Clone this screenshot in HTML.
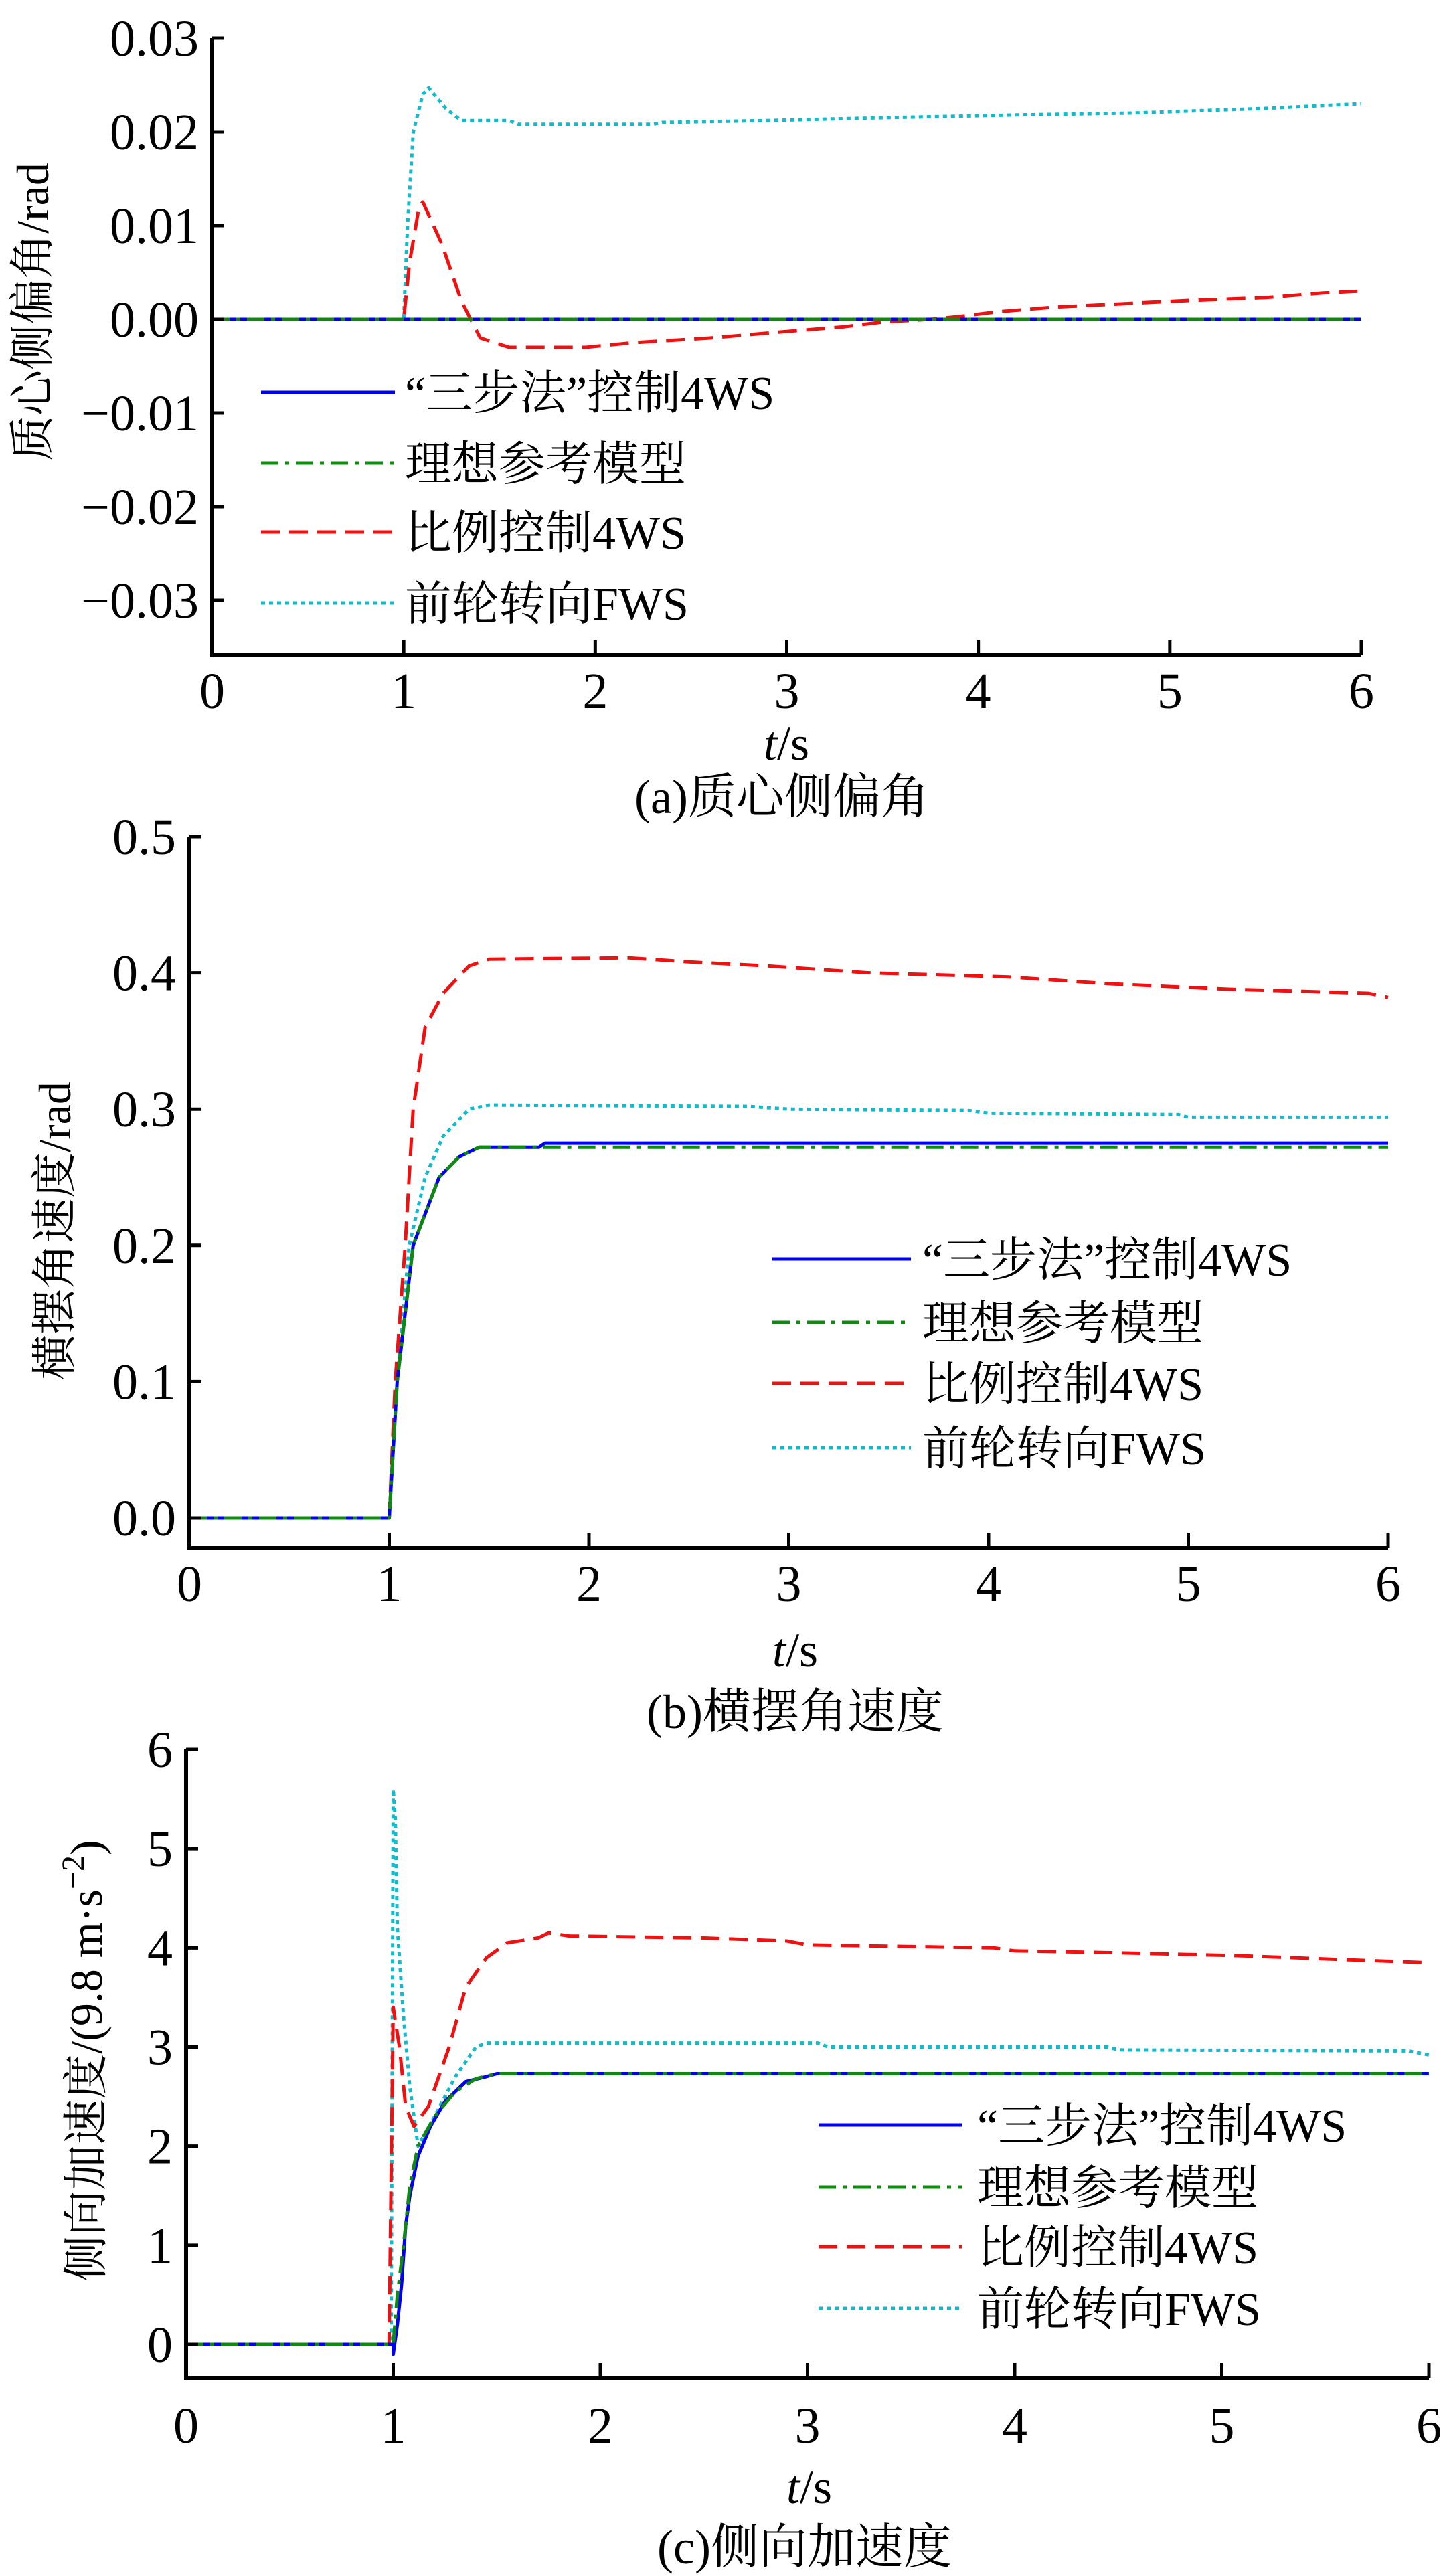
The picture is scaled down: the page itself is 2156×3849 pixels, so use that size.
<!DOCTYPE html>
<html><head><meta charset="utf-8">
<style>
html,body{margin:0;padding:0;background:#fff;}
svg{display:block;}
text{font-family:"Liberation Serif","Noto Serif CJK SC","Noto Sans CJK SC",serif;fill:#000;}
</style></head>
<body>
<svg id="fig" width="2156" height="3849" viewBox="0 0 2156 3849" xmlns="http://www.w3.org/2000/svg"></svg>
<script>
// ---------- data: chart (a) sideslip angle ----------
const aBlueX=[0,6], aBlueY=[0,0];
const aGreenX=[0,6], aGreenY=[0,0];
const aRedX=[0,1.0,1.03,1.08,1.1,1.2,1.3,1.35,1.4,1.55,1.95,2.2,2.6,3.0,3.3,3.5,3.75,3.9,4.1,4.4,4.8,5.1,5.5,5.8,6];
const aRedY=[0,0,0.006,0.012,0.0125,0.008,0.002,0.0,-0.002,-0.003,-0.003,-0.0025,-0.002,-0.0013,-0.0008,-0.0003,0,0.0003,0.0008,0.0013,0.0017,0.002,0.0023,0.0028,0.003];
const aCyanX=[0,1.0,1.02,1.05,1.1,1.13,1.22,1.3,1.55,1.6,2.3,2.35,2.9,3.5,4.2,4.8,5.5,6];
const aCyanY=[0,0,0.01,0.02,0.024,0.0247,0.0225,0.0212,0.0212,0.0208,0.0208,0.021,0.0212,0.0215,0.0218,0.022,0.0225,0.023];
const aYTicks=[0.03,0.02,0.01,0.00,-0.01,-0.02,-0.03];
const aYLabels=["0.03","0.02","0.01","0.00","\u22120.01","\u22120.02","\u22120.03"];
// ---------- data: chart (b) yaw rate ----------
const bRedX=[0,1.0,1.03,1.08,1.12,1.18,1.27,1.4,1.5,2.2,2.5,2.9,3.4,4.1,4.6,5.2,5.9,6];
const bRedY=[0,0,0.1,0.2,0.3,0.36,0.385,0.405,0.41,0.411,0.408,0.405,0.4,0.397,0.392,0.388,0.385,0.382];
const bCyanX=[0,1.0,1.04,1.1,1.18,1.27,1.4,1.5,2.8,3.0,3.9,4.0,4.95,5.0,6];
const bCyanY=[0,0,0.1,0.2,0.25,0.28,0.3,0.303,0.302,0.3,0.299,0.297,0.296,0.294,0.294];
const bBlueX=[0,1.0,1.04,1.12,1.25,1.35,1.45,1.75,1.78,6];
const bBlueY=[0,0,0.1,0.2,0.25,0.265,0.272,0.272,0.275,0.275];
const bGreenX=[0,1.0,1.04,1.12,1.25,1.35,1.45,6];
const bGreenY=[0,0,0.1,0.2,0.25,0.265,0.272,0.272];
const bYTicks=[0.5,0.4,0.3,0.2,0.1,0.0];
const bYLabels=["0.5","0.4","0.3","0.2","0.1","0.0"];
// ---------- data: chart (c) lateral acceleration ----------
const cBlueX=[0,1.0,1.0,1.02,1.04,1.06,1.08,1.12,1.18,1.25,1.35,1.45,1.5,6];
const cBlueY=[0,0,-0.1,0.2,0.6,1.2,1.5,1.9,2.2,2.45,2.65,2.7,2.73,2.73];
const cGreenX=[0,1.0,1.02,1.05,1.08,1.12,1.2,1.3,1.4,1.5,6];
const cGreenY=[0,0,0.5,1.0,1.6,2.0,2.3,2.55,2.68,2.73,2.73];
const cRedX=[0,0.98,1.0,1.03,1.06,1.1,1.17,1.27,1.35,1.45,1.55,1.7,1.75,1.85,2.5,2.9,3.0,3.9,4.0,4.5,5.1,5.6,6];
const cRedY=[0,0,3.4,3.0,2.4,2.2,2.4,3.0,3.6,3.9,4.05,4.1,4.15,4.12,4.1,4.07,4.03,4.0,3.97,3.95,3.92,3.88,3.85];
const cCyanX=[0,0.99,1.0,1.01,1.02,1.05,1.08,1.12,1.2,1.3,1.4,1.45,3.05,3.1,4.45,4.5,5.9,6];
const cCyanY=[0,0,5.6,5.3,4.2,3.3,2.6,2.0,2.3,2.7,3.0,3.04,3.04,3.0,3.0,2.97,2.96,2.92];
const cYTicks=[6,5,4,3,2,1,0];
const cYLabels=["6","5","4","3","2","1","0"];
const xTicks=[0,1,2,3,4,5,6];
const xLabels=["0","1","2","3","4","5","6"];
const legendLabels=["\u201c三步法\u201d控制4WS","理想参考模型","比例控制4WS","前轮转向FWS"];

const NS="http://www.w3.org/2000/svg";
const fig=document.getElementById('fig');
const STY={
  blue:{c:"#0000ee",d:""},
  green:{c:"#118811",d:"26 10 6 10"},
  red:{c:"#ee1111",d:"28 14"},
  cyan:{c:"#11bbcc",d:"6 6"}
};
function mk(tag,attrs,parent){const e=document.createElementNS(NS,tag);for(const k in attrs)e.setAttribute(k,attrs[k]);(parent||fig).appendChild(e);return e;}

function chart(cfg){
  const g=mk('g',{});
  
  
  const sx=v=>cfg.x0+(v-0)/6*(cfg.x6-cfg.x0);
  const sy=v=>cfg.yZero+(v-0)*(cfg.yTopPix-cfg.yZero)/cfg.yTopVal;
  cfg.series.forEach(s=>{
    const pts=s.x.map((xv,i)=>sx(xv).toFixed(1)+','+sy(s.y[i]).toFixed(1)).join(' ');
    const p=mk('polyline',{points:pts,fill:'none',stroke:STY[s.k].c,'stroke-width':5,'stroke-dasharray':STY[s.k].d,'stroke-linejoin':'round'},g);
    
    
  });
  const ax=mk('path',{d:`M${cfg.x0},${cfg.yTopPix} V${cfg.axisY} H${cfg.x6}`,fill:'none',stroke:'#000','stroke-width':6},g);
  
  
  cfg.yTicks.forEach((v,i)=>{
    const y=sy(v);
    mk('line',{x1:cfg.x0,y1:y,x2:cfg.x0+18,y2:y,stroke:'#000','stroke-width':5},g);
    const t=mk('text',{x:cfg.x0-20,y:y+26,'text-anchor':'end','font-size':76},g);
    t.textContent=cfg.yLabels[i];
    
    
  });
  xTicks.forEach((v,i)=>{
    const x=sx(v);
    mk('line',{x1:x,y1:cfg.axisY,x2:x,y2:cfg.axisY-22,stroke:'#000','stroke-width':5},g);
    const t=mk('text',{x:x,y:cfg.xLabY,'text-anchor':'middle','font-size':76},g);
    t.textContent=xLabels[i];
    
    
  });
  const xt=mk('text',{x:cfg.xtX,y:cfg.xtY,'text-anchor':'middle','font-size':72},g);
  xt.innerHTML='<tspan font-style="italic">t</tspan>/s';
  
  
  const yt=mk('text',{transform:`translate(${cfg.ytX},${cfg.ytY}) rotate(-90)`,'text-anchor':'middle','font-size':68,'font-family':'"Liberation Serif","Noto Sans CJK SC",sans-serif'},g);
  yt.innerHTML=cfg.ytHTML;
  
  
  const cp=mk('text',{x:cfg.capX,y:cfg.capY,'text-anchor':'middle','font-size':72},g);
  cp.textContent=cfg.cap;
  
  
  const lg=mk('g',{},g);
  
  
  ['blue','green','red','cyan'].forEach((k,i)=>{
    const y=cfg.legY[i];
    mk('line',{x1:cfg.legX1,y1:y,x2:cfg.legX2,y2:y,stroke:STY[k].c,'stroke-width':5,'stroke-dasharray':STY[k].d},lg);
    const t=mk('text',{x:cfg.legTX,y:y+25,'font-size':70,'font-family':'"Liberation Serif","Noto Sans CJK SC",sans-serif'},lg);
    t.textContent=legendLabels[i];
    
    
  });
}

chart({name:'chart-a-sideslip',x0:317,x6:2034,yZero:477,yTopPix:57,yTopVal:0.03,axisY:979,
  yTicks:aYTicks,yLabels:aYLabels,xLabY:1058,xtX:1175,xtY:1135,ytX:72,ytY:466,
  ytHTML:'质心侧偏角/rad',cap:'(a)质心侧偏角',capX:1168,capY:1215,
  legX1:390,legX2:590,legTX:605,legY:[586,692,795,901],
  series:[{k:'cyan',name:'series-fws',x:aCyanX,y:aCyanY},{k:'red',name:'series-proportional-4ws',x:aRedX,y:aRedY},
          {k:'blue',name:'series-three-step-4ws',x:aBlueX,y:aBlueY},{k:'green',name:'series-ideal-model',x:aGreenX,y:aGreenY}]});

chart({name:'chart-b-yaw-rate',x0:283,x6:2074,yZero:2268,yTopPix:1250,yTopVal:0.5,axisY:2313,
  yTicks:bYTicks,yLabels:bYLabels,xLabY:2392,xtX:1188,xtY:2490,ytX:105,ytY:1839,
  ytHTML:'横摆角速度/rad',cap:'(b)横摆角速度',capX:1188,capY:2582,
  legX1:1154,legX2:1361,legTX:1378,legY:[1881,1976,2067,2163],
  series:[{k:'cyan',name:'series-fws',x:bCyanX,y:bCyanY},{k:'red',name:'series-proportional-4ws',x:bRedX,y:bRedY},
          {k:'blue',name:'series-three-step-4ws',x:bBlueX,y:bBlueY},{k:'green',name:'series-ideal-model',x:bGreenX,y:bGreenY}]});

chart({name:'chart-c-lateral-accel',x0:278,x6:2135,yZero:3503,yTopPix:2614,yTopVal:6,axisY:3553,
  yTicks:cYTicks,yLabels:cYLabels,xLabY:3650,xtX:1209,xtY:3740,ytX:152,ytY:3079,
  ytHTML:'侧向加速度/(9.8 m·s<tspan dy="-27" font-size="48">\u22122</tspan><tspan dy="27">)</tspan>',cap:'(c)侧向加速度',capX:1202,capY:3830,
  legX1:1223,legX2:1437,legTX:1460,legY:[3175,3268,3357,3449],
  series:[{k:'cyan',name:'series-fws',x:cCyanX,y:cCyanY},{k:'red',name:'series-proportional-4ws',x:cRedX,y:cRedY},
          {k:'blue',name:'series-three-step-4ws',x:cBlueX,y:cBlueY},{k:'green',name:'series-ideal-model',x:cGreenX,y:cGreenY}]});
</script>
</body></html>
